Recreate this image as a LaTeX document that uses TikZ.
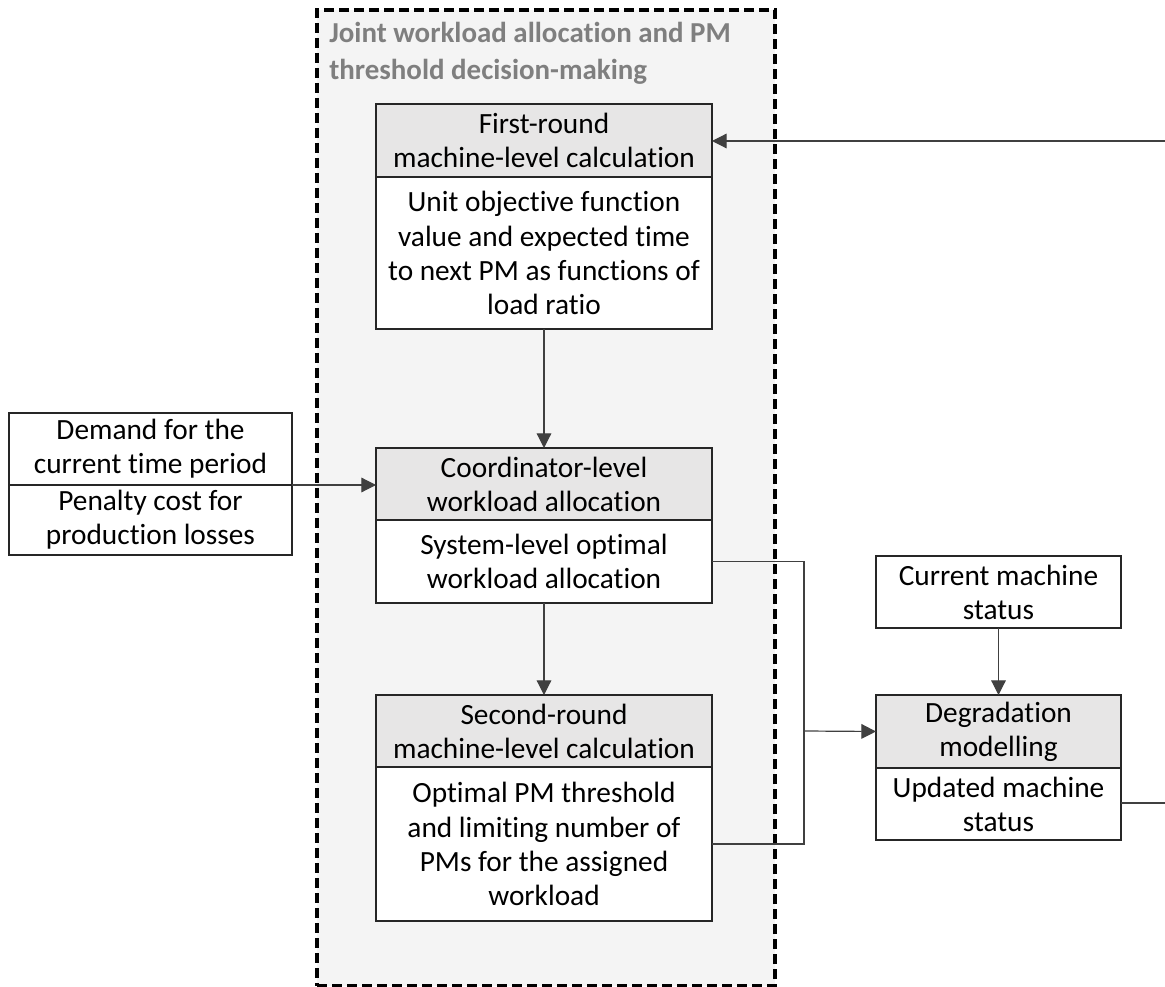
\documentclass[tikz,border=0pt]{standalone}
\usepackage{fontspec}
\setmainfont{Carlito}[Ligatures=NoCommon]
\usetikzlibrary{arrows.meta}
\definecolor{hdrgray}{HTML}{E7E6E6}
\definecolor{framefill}{HTML}{F4F4F4}
\definecolor{titlegray}{HTML}{7F7F7F}
\definecolor{linegray}{HTML}{404040}
\definecolor{boxline}{HTML}{262626}
\newcommand\bodyfnt{\fontsize{22}{25.6}\selectfont}
\newcommand\titlefnt{\fontsize{21.7}{27.75}\selectfont\bfseries}
\tikzset{
  boxbase/.style={draw=boxline, line width=1.1pt, inner sep=0pt, outer sep=0pt,
    align=center, font=\bodyfnt, minimum width=252pt},
  hdr/.style={boxbase, fill=hdrgray},
  bdy/.style={boxbase, fill=white},
  conn/.style={draw=linegray, line width=0.9pt},
  arr/.style={conn, -{Triangle[length=11pt,width=11pt]}},
  container/.style={draw=black, line width=2.6pt, dash pattern=on 7.5pt off 3.75pt,
    fill=framefill, inner sep=0pt, outer sep=0pt, minimum width=343.5pt, minimum height=732pt}
}
\begin{document}
\begin{tikzpicture}[x=0.75pt,y=-0.75pt]
\useasboundingbox (0,0) rectangle (1165,987);
\node[container] (frame) at (546,498) {};
\node[anchor=north west, inner sep=0pt, align=left, font=\titlefnt, text=titlegray]
  (title) at (329,22) {Joint workload allocation and PM\\threshold decision-making};

% first round
\node[hdr, minimum height=54.75pt] (b1h) at (544,140.5) {First-round\\machine-level calculation};
\node[bdy, minimum height=114pt] (b1b) at (544,253) {Unit objective function\\value and expected time\\to next PM as functions of\\load ratio};
% coordinator
\node[hdr, minimum height=54pt] (b2h) at (544,484) {Coordinator-level\\workload allocation};
\node[bdy, minimum height=62.25pt] (b2b) at (544,561.5) {System-level optimal\\workload allocation};
% second round
\node[hdr, minimum height=54pt] (b3h) at (544,731) {Second-round\\machine-level calculation};
\node[bdy, minimum height=115.5pt] (b3b) at (544,844) {Optimal PM threshold\\and limiting number of\\PMs for the assigned\\workload};
% left inputs
\node[bdy, minimum width=212.25pt, minimum height=54pt] (lt) at (150.5,449) {Demand for the\\current time period};
\node[bdy, minimum width=212.25pt, minimum height=52.5pt] (lb) at (150.5,520) {Penalty cost for\\production losses};
% right side
\node[bdy, minimum width=183.75pt, minimum height=54pt] (cs) at (998.5,592) {Current machine\\status};
\node[hdr, minimum width=183.75pt, minimum height=54.75pt] (dh) at (998.5,731.5) {Degradation\\modelling};
\node[bdy, minimum width=183.75pt, minimum height=54pt] (db) at (998.5,804) {Updated machine\\status};

\coordinate (in1) at (1165,141);
\coordinate (out1) at (1165,803);
\coordinate (jn) at (804,731);

\draw[arr] (in1) -- (in1 -| b1h.east);
\draw[arr] (b1b.south) -- (b2h.north);
\draw[arr] (lt.south east) -- (lt.south east -| b2h.west);
\draw[arr] (b2b.south) -- (b3h.north);
\draw[conn] (b2b.east) -| (jn) |- (b3b.east);
\draw[arr] (jn) -- (dh.west);
\draw[arr] (cs.south) -- (dh.north);
\draw[conn] (db.east |- out1) -- (out1);
\end{tikzpicture}
\end{document}
